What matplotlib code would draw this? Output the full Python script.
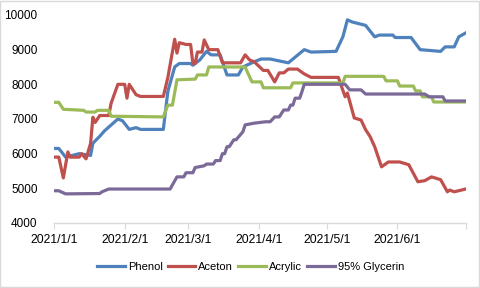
import matplotlib
matplotlib.use("Agg")
import matplotlib.pyplot as plt
import pandas as pd
from matplotlib.patches import Rectangle

# Day offsets from 2021-01-01 and prices
phenol_days = [0, 2, 5, 11, 16, 17, 20, 22, 28, 30, 33, 36, 38, 48, 50, 53, 55, 60, 61, 64,
               67, 69, 73, 76, 81, 83, 88, 91, 95, 103, 110, 113, 124, 127, 129, 131, 134,
               137, 141, 143, 149, 150, 157, 161, 170, 172, 176, 178, 181]
phenol_vals = [6150, 6150, 5900, 6000, 5950, 6300, 6500, 6650, 7000, 6950, 6700, 6750, 6700,
               6700, 7800, 8500, 8600, 8600, 8550, 8700, 8950, 8850, 8850, 8270, 8270, 8500,
               8650, 8730, 8730, 8620, 9000, 8930, 8950, 9370, 9860, 9800, 9750, 9700, 9370,
               9420, 9420, 9350, 9350, 9000, 8950, 9080, 9080, 9370, 9480]

aceton_days = [0, 2, 4, 6, 7, 11, 12, 14, 16, 17, 18, 20, 24, 25, 28, 31, 32, 33, 36, 38, 48,
               50, 53, 54, 55, 58, 60, 61, 62, 63, 65, 66, 68, 72, 74, 82, 84, 86, 88, 92, 94,
               97, 99, 101, 103, 107, 110, 113, 125, 128, 129, 132, 135, 137, 139, 141, 144,
               147, 152, 156, 160, 163, 166, 170, 173, 174, 176, 181]
aceton_vals = [5900, 5900, 5300, 6050, 5900, 5900, 6000, 5850, 6300, 7050, 6900, 7100, 7100,
               7450, 8000, 8000, 7600, 8000, 7700, 7650, 7650, 8200, 9300, 8900, 9200, 9150,
               9150, 8600, 8600, 8930, 8930, 9280, 9000, 9000, 8620, 8620, 8850, 8700, 8650,
               8400, 8400, 8070, 8330, 8330, 8440, 8440, 8300, 8200, 8200, 7640, 7750, 7030,
               6970, 6690, 6490, 6200, 5620, 5760, 5760, 5680, 5190, 5220, 5330, 5250, 4900,
               4950, 4900, 4980]

acrylic_days = [0, 2, 4, 13, 14, 18, 19, 24, 25, 48, 50, 52, 54, 62, 63, 67, 68, 84, 85, 87,
                91, 92, 104, 105, 127, 128, 145, 146, 151, 152, 158, 159, 161, 162, 166, 167, 181]
acrylic_vals = [7480, 7480, 7280, 7250, 7200, 7200, 7250, 7250, 7080, 7060, 7400, 7400, 8130,
                8150, 8270, 8270, 8500, 8500, 8350, 8070, 8070, 7900, 7900, 8040, 8040, 8230,
                8230, 8100, 8100, 7950, 7950, 7810, 7810, 7640, 7640, 7490, 7490]

glycerin_days = [0, 2, 5, 20, 21, 24, 51, 52, 54, 57, 58, 61, 62, 66, 67, 70, 71, 73, 74, 75,
                 76, 77, 79, 80, 83, 84, 88, 93, 95, 97, 99, 101, 103, 104, 105, 106, 108, 109,
                 110, 128, 130, 135, 137, 163, 165, 171, 172, 181]
glycerin_vals = [4930, 4930, 4840, 4850, 4900, 4980, 4980, 5100, 5330, 5330, 5450, 5450, 5600,
                 5650, 5700, 5700, 5800, 5800, 6000, 6000, 6200, 6200, 6400, 6400, 6630, 6830,
                 6880, 6920, 6920, 7060, 7060, 7260, 7260, 7400, 7400, 7600, 7600, 7790, 8000,
                 8000, 7840, 7840, 7720, 7720, 7640, 7640, 7520, 7520]

series = [
    ("Phenol", phenol_days, phenol_vals, "#4F81BD"),
    ("Aceton", aceton_days, aceton_vals, "#C0504D"),
    ("Acrylic", acrylic_days, acrylic_vals, "#9BBB59"),
    ("95% Glycerin", glycerin_days, glycerin_vals, "#7B6A98"),
]

start = pd.Timestamp("2021-01-01")
end = pd.Timestamp("2021-07-01")
month_ticks = pd.date_range("2021-01-01", "2021-06-01", freq="MS")

plt.rcParams["font.family"] = ["Liberation Sans", "DejaVu Sans"]

fig = plt.figure(figsize=(4.8, 2.88), dpi=100)
ax = fig.add_axes([0.113, 0.2257, 0.857, 0.7223])

for name, days, vals, color in series:
    dates = [start + pd.Timedelta(days=d) for d in days]
    ax.plot(dates, vals, color=color, linewidth=2.3, label=name, solid_joinstyle="round")

ax.set_xlim(start, end)
ax.set_ylim(4000, 10000)
ax.set_yticks(range(4000, 10001, 1000))
ax.set_xticks(list(month_ticks) + [end])
ax.set_xticklabels([f"{d.year}/{d.month}/{d.day}" for d in month_ticks] + [""])

for side in ["top", "right", "left"]:
    ax.spines[side].set_visible(False)
ax.spines["bottom"].set_color("#d9d9d9")
ax.spines["bottom"].set_linewidth(1.0)
ax.tick_params(axis="y", length=0, labelsize=8.5, pad=12, colors="black")
ax.tick_params(axis="x", length=4, labelsize=8.8, pad=4, colors="#d9d9d9", labelcolor="black")

fig.legend(loc="center", bbox_to_anchor=(0.522, 0.073), ncol=4, frameon=False,
           fontsize=8, handlelength=2.5, columnspacing=0.45, handletextpad=0.27)

fig.patches.append(Rectangle((0.001, 0.002), 0.997, 0.995, transform=fig.transFigure,
                             fill=False, edgecolor="#d9d9d9", linewidth=1.0))

fig.savefig("out.png", dpi=100)
